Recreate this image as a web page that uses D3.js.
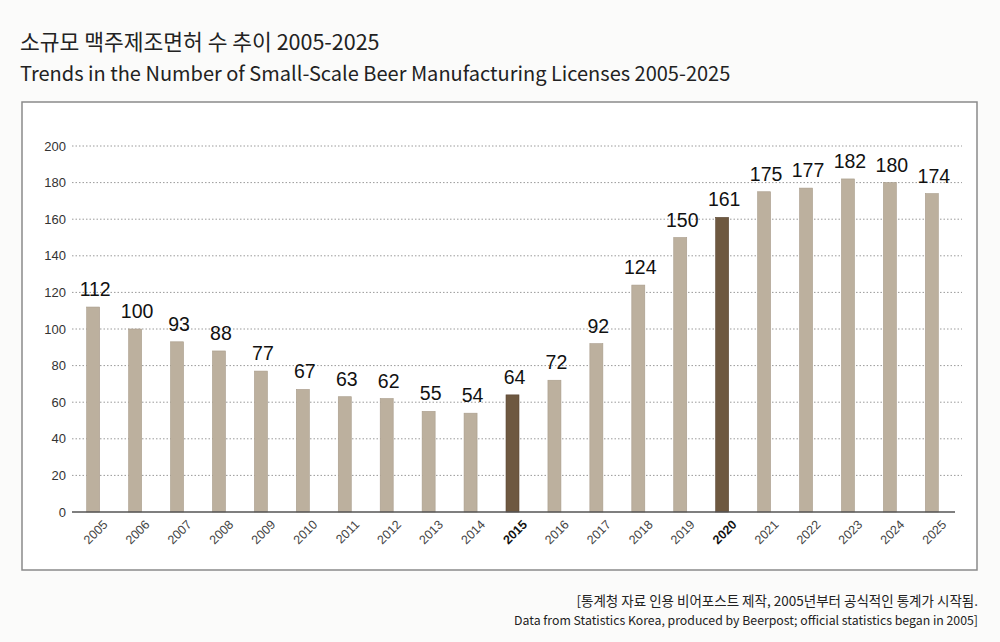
<!DOCTYPE html>
<html>
<head>
<meta charset="utf-8">
<script src="https://cdn.jsdelivr.net/npm/d3@7"></script>
<style>
  body { margin: 0; background: #fbfbfa; }
  svg { display: block; }
</style>
</head>
<body>
<svg id="chart"></svg>
<script>
// data
const years = ["2005","2006","2007","2008","2009","2010","2011","2012","2013","2014","2015",
               "2016","2017","2018","2019","2020","2021","2022","2023","2024","2025"];
const licenses = [112,100,93,88,77,67,63,62,55,54,64,72,92,124,150,161,175,177,182,180,174];
const highlightYears = ["2015","2020"];
const yTicks = [0,20,40,60,80,100,120,140,160,180,200];

const titleKo = "소규모 맥주제조면허 수 추이 2005-2025";
const titleEn = "Trends in the Number of Small-Scale Beer Manufacturing Licenses 2005-2025";
const noteKo = "[통계청 자료 인용 비어포스트 제작, 2005년부터 공식적인 통계가 시작됨.";
const noteEn = "Data from Statistics Korea, produced by Beerpost; official statistics began in 2005]";

const W = 1000, H = 642;
const svg = d3.select("#chart").attr("width", W).attr("height", H);
const font = "'Noto Sans CJK KR', 'Noto Sans', sans-serif";

// titles
svg.append("text")
  .attr("x", 20).attr("y", 50)
  .style("font-family", font).style("font-size", "21.5px")
  .style("fill", "#222")
  .text(titleKo);
svg.append("text")
  .attr("x", 20).attr("y", 81)
  .style("font-family", font).style("font-size", "20px")
  .style("fill", "#222")
  .text(titleEn);

// frame box
svg.append("rect")
  .attr("x", 22).attr("y", 102)
  .attr("width", 955).attr("height", 468)
  .attr("fill", "#fff")
  .attr("stroke", "#8a8a8a").attr("stroke-width", 1.5);

let x = d3.scaleBand()
  .domain(years)
  .range([72, 953])
  .paddingInner(0.69)
  .paddingOuter(0.35);

let y = d3.scaleLinear()
  .domain([0, 200])
  .range([512, 146]);

// gridlines
svg.append("g")
  .selectAll("line")
  .data(yTicks.filter(t => t > 0))
  .join("line")
  .attr("x1", 72).attr("x2", 962)
  .attr("y1", d => y(d)).attr("y2", d => y(d))
  .attr("stroke", "#9a9a9a")
  .attr("stroke-width", 1)
  .attr("stroke-dasharray", "1.5,2");

// y axis labels
let yAxis = d3.axisLeft(y).tickValues(yTicks).tickSize(0).tickPadding(6);
let gy = svg.append("g").attr("transform", "translate(72,0)").call(yAxis);
gy.select(".domain").remove();
gy.selectAll("text")
  .style("font-family", "'Liberation Sans', Arial, sans-serif")
  .style("font-size", "13px")
  .style("fill", "#333");

// bars
svg.append("g")
  .selectAll("rect")
  .data(licenses)
  .join("rect")
  .attr("x", (d, i) => x(years[i]))
  .attr("y", d => y(d))
  .attr("width", x.bandwidth())
  .attr("height", d => y(0) - y(d))
  .attr("fill", (d, i) => highlightYears.includes(years[i]) ? "#6e5840" : "#bcb09e")
  .attr("stroke", (d, i) => highlightYears.includes(years[i]) ? "#5a4632" : "#a89c8a")
  .attr("stroke-width", 0.6);

// value labels
svg.append("g")
  .selectAll("text")
  .data(licenses)
  .join("text")
  .attr("x", (d, i) => x(years[i]) + x.bandwidth() / 2 + 2)
  .attr("y", d => y(d) - 11)
  .attr("text-anchor", "middle")
  .style("font-family", "'Liberation Sans', Arial, sans-serif")
  .style("font-size", "19.5px")
  .style("fill", "#111")
  .text(d => d);

// x axis
let xAxis = d3.axisBottom(x).tickSize(0).tickPadding(8);
let gx = svg.append("g").attr("transform", `translate(0,${y(0)})`).call(xAxis);
gx.select(".domain")
  .attr("d", "M72,0H955")
  .attr("stroke", "#555")
  .attr("stroke-width", 1.5);
gx.selectAll("text")
  .attr("text-anchor", "end")
  .attr("dy", "0.3em")
  .attr("transform", "translate(7,5) rotate(-45)")
  .style("font-family", "'Liberation Sans', Arial, sans-serif")
  .style("font-size", "12.5px")
  .style("font-weight", d => highlightYears.includes(d) ? "bold" : "normal")
  .style("fill", d => highlightYears.includes(d) ? "#111" : "#444");

// footnote
svg.append("text")
  .attr("x", 978).attr("y", 606)
  .attr("text-anchor", "end")
  .style("font-family", font).style("font-size", "13.5px")
  .style("fill", "#222")
  .text(noteKo);
svg.append("text")
  .attr("x", 978).attr("y", 625)
  .attr("text-anchor", "end")
  .style("font-family", font).style("font-size", "12.3px")
  .style("fill", "#222")
  .text(noteEn);
</script>
</body>
</html>
